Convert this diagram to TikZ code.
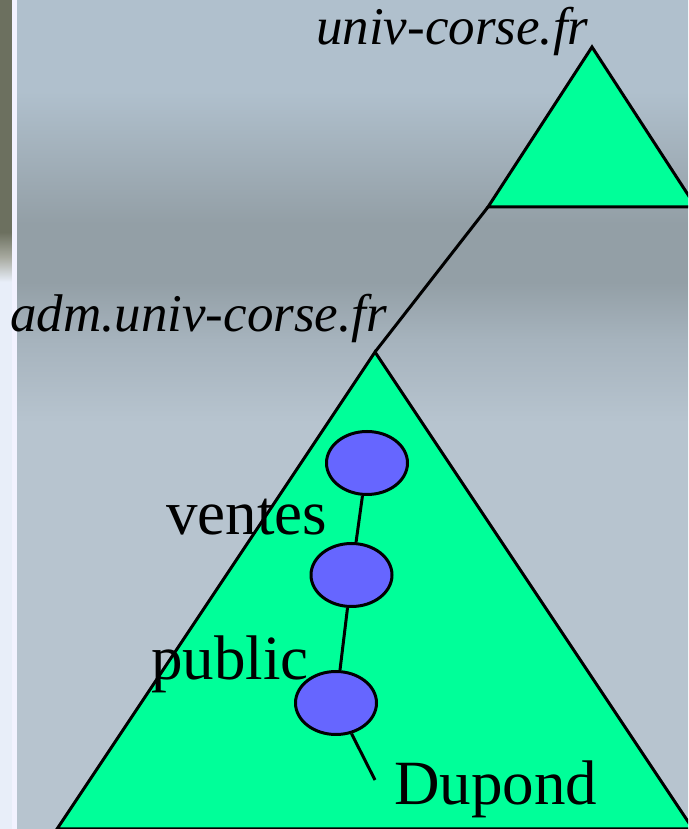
\documentclass[tikz,border=0pt]{standalone}
\usepackage{fontspec}
\setmainfont{Liberation Serif}
\usetikzlibrary{shapes.geometric}
\definecolor{bgtop}{HTML}{B0C0CD}
\definecolor{bgdark}{HTML}{939FA6}
\definecolor{bgmid}{HTML}{A6B3BD}
\definecolor{bgbot}{HTML}{B7C4CF}
\definecolor{stripdark}{HTML}{6C705F}
\definecolor{striplight}{HTML}{E8EEF9}
\definecolor{domgreen}{HTML}{00FF99}
\definecolor{nodeblue}{HTML}{6666FF}
\pgfdeclareverticalshading{bgsh}{100bp}{color(0bp)=(bgbot); color(49.5bp)=(bgbot); color(54.5bp)=(bgmid); color(58bp)=(bgdark); color(61.5bp)=(bgdark); color(69.5bp)=(bgtop); color(100bp)=(bgtop)}
\pgfdeclareverticalshading{stripsh}{100bp}{color(0bp)=(striplight); color(58bp)=(striplight); color(59.5bp)=(stripdark!60!white); color(61bp)=(stripdark); color(100bp)=(stripdark)}
\begin{document}
\begin{tikzpicture}[x=1pt,y=1pt,
  tri/.style={draw=black, line width=3pt, fill=domgreen, line join=miter},
  link/.style={draw=black, line width=3pt},
  dnode/.style={ellipse, draw=black, line width=3pt, fill=nodeblue, minimum width=81pt, minimum height=63pt, inner sep=0pt},
  lbl/.style={inner sep=0pt, anchor=base west, font=\fontsize{63}{63}\selectfont},
  dlbl/.style={inner sep=0pt, anchor=base west, font=\fontsize{53}{53}\selectfont\itshape}]
\useasboundingbox (0,0) rectangle (688,829);
\clip (0,0) rectangle (688,829);
% background
\shade[shading=bgsh] (0,0) rectangle (688,829);
\shade[shading=stripsh] (0,0) rectangle (12,829);
\fill[white!95!blue] (12,0) rectangle (17,829);
% small triangle (univ-corse.fr)
\coordinate (topapex) at (592,782);
\coordinate (topleft) at (488,622);
\coordinate (topright) at (696,622);
\draw[tri] (topapex) -- (topleft) -- (topright) -- cycle;
% big triangle (adm.univ-corse.fr)
\coordinate (bigapex) at (375,477);
\coordinate (bigleft) at (57,0);
\coordinate (bigright) at (693,0);
\draw[tri] (bigapex) -- (bigleft) -- (bigright) -- cycle;
% delegation link
\draw[link] (topleft) -- (bigapex);
% labels
\node[dlbl] (univ) at (316,784) {univ-corse.fr};
\node[dlbl] (adm) at (10,497) {adm.univ-corse.fr};
% nodes
\node[dnode] (n1) at (367,366) {};
\node[dnode] (n2) at (351.5,254) {};
\node[dnode] (n3) at (336,126) {};
\coordinate (dend) at (375,49);
\draw[link] (n1) -- (n2);
\draw[link] (n2) -- (n3);
\draw[link] (n3) -- (dend);
\node[lbl] (ventes) at (166,294) {ventes};
\node[lbl] (public) at (151,149) {public};
\node[lbl] (dupond) at (394,24) {Dupond};
\end{tikzpicture}
\end{document}
